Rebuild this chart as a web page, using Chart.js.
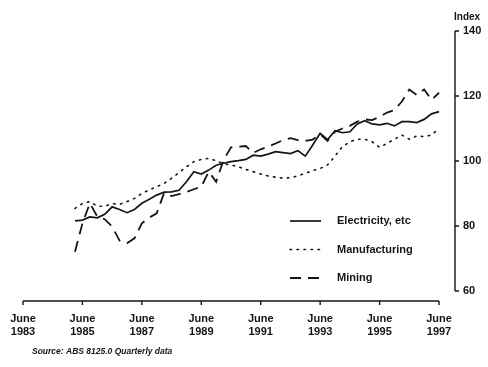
<!DOCTYPE html>
<html lang="en">
<head>
  <meta charset="UTF-8" />
  <title>Index by industry</title>
  <script src="https://cdn.jsdelivr.net/npm/chart.js"></script>
  <style>
    html, body {
      margin: 0;
      padding: 0;
      background: #fff;
    }
    #wrap {
      width: 488px;
      height: 367px;
    }
  </style>
</head>
<body>
  <div id="wrap"><canvas id="indexChart" width="488" height="367"></canvas></div>

  <script>
    // quarterly series, March 1985 to June 1997
    const firstYear = 1983;
    const leadQuarters = 7; // Jun 1983 .. Dec 1984 have no data
    const seriesNames = ['Electricity, etc', 'Manufacturing', 'Mining'];

    const electricity = [
      81.6, 81.8, 82.8, 82.5, 83.6, 85.9, 85.1, 84.1, 85.1, 87.0,
      88.2, 89.5, 90.4, 90.5, 91.0, 93.6, 96.7, 96.0, 97.2, 98.7,
      99.3, 99.8, 100.1, 100.5, 101.8, 101.5, 102.1, 102.9, 102.6, 102.3,
      103.2, 101.5, 104.9, 108.5, 106.6, 109.3, 108.7, 109.0, 111.4, 112.4,
      111.4, 111.1, 111.6, 110.8, 112.1, 112.1, 111.8, 112.8, 114.5, 115.2
    ];
    const manufacturing = [
      85.4, 86.9, 87.5, 86.1, 86.1, 86.9, 86.7, 87.5, 88.5, 90.0,
      91.1, 92.1, 93.1, 94.7, 96.4, 98.2, 99.8, 100.5, 100.8, 100.1,
      99.1, 98.8, 98.2, 97.4, 96.7, 96.0, 95.4, 95.0, 94.7, 94.9,
      95.4, 96.2, 97.0, 97.7, 98.8, 101.5, 104.4, 105.9, 106.7, 106.7,
      105.9, 104.2, 105.4, 106.7, 108.0, 106.7, 107.7, 107.5, 108.0, 110.0
    ];
    const mining = [
      72.1, 80.8, 87.0, 82.9, 82.1, 79.8, 75.5, 74.7, 76.2, 80.8,
      82.6, 83.9, 90.2, 89.2, 89.8, 90.5, 91.3, 92.1, 96.7, 93.6,
      100.3, 104.2, 104.4, 104.6, 102.5, 103.6, 104.4, 105.4, 106.4, 107.0,
      106.4, 106.2, 106.6, 108.3, 106.2, 109.0, 110.0, 110.8, 112.1, 112.8,
      112.6, 113.6, 114.9, 115.7, 118.3, 122.0, 120.3, 122.0, 118.8, 121.0
    ];

    const yTicks = [60, 80, 100, 120, 140];
    const tickMonth = 'June';

    // category labels: every quarter from June 1983 to June 1997
    const monthNames = ['June', 'September', 'December', 'March'];
    const quarters = [];
    for (let i = 0; i <= leadQuarters + electricity.length - 1; i++) {
      const yr = firstYear + Math.floor((i + 2) / 4);
      quarters.push(monthNames[i % 4] + ' ' + yr);
    }

    const pad = arr => new Array(leadQuarters).fill(null).concat(arr);

    const FONT = "'Liberation Sans', Arial, sans-serif";
    const INK = '#151515';

    const paperAxes = {
      id: 'paperAxes',
      afterDraw(chart) {
        const { ctx, chartArea: a, scales: { x, y } } = chart;
        ctx.save();
        ctx.strokeStyle = INK;
        ctx.lineWidth = 1.4;

        // right hand axis, set off from the plot
        const ax = a.right + 16;
        ctx.beginPath();
        ctx.moveTo(ax, y.getPixelForValue(yTicks[yTicks.length - 1]));
        ctx.lineTo(ax, y.getPixelForValue(yTicks[0]));
        yTicks.forEach(v => {
          const py = y.getPixelForValue(v);
          ctx.moveTo(ax, py);
          ctx.lineTo(ax + 4, py);
        });

        // bottom axis, set off below the plot
        const by = a.bottom + 10;
        ctx.moveTo(x.getPixelForValue(0), by);
        ctx.lineTo(x.getPixelForValue(quarters.length - 1), by);
        for (let i = 0; i < quarters.length; i += 8) {
          const px = x.getPixelForValue(i);
          ctx.moveTo(px, by);
          ctx.lineTo(px, by + 4);
        }
        ctx.stroke();

        ctx.fillStyle = INK;
        ctx.textBaseline = 'middle';
        ctx.font = 'bold 10px ' + FONT;
        ctx.fillText('Index', ax - 1, a.top - 14);

        // legend inside the plot, lower right
        chart.data.datasets.forEach((ds, i) => {
          const ly = a.top + 190 + i * 28.5;
          ctx.save();
          ctx.lineWidth = ds.borderWidth;
          ctx.setLineDash(ds.borderDash || []);
          ctx.lineCap = ds.borderCapStyle || 'butt';
          ctx.beginPath();
          ctx.moveTo(a.left + 267, ly);
          ctx.lineTo(a.left + 298, ly);
          ctx.stroke();
          ctx.restore();
          ctx.font = 'bold 11px ' + FONT;
          ctx.fillText(ds.label, a.left + 314, ly);
        });

        ctx.font = 'italic bold 8.5px ' + FONT;
        ctx.fillText('Source: ABS 8125.0 Quarterly data', 32, 352);
        ctx.restore();
      }
    };

    const ctx = document.getElementById('indexChart').getContext('2d');
    new Chart(ctx, {
      type: 'line',
      data: {
        labels: quarters,
        datasets: [
          {
            label: seriesNames[0],
            data: pad(electricity),
            borderColor: INK,
            borderWidth: 1.7,
            pointRadius: 0
          },
          {
            label: seriesNames[1],
            data: pad(manufacturing),
            borderColor: INK,
            borderWidth: 1.6,
            borderDash: [1.5, 5.5],
            borderCapStyle: 'round',
            pointRadius: 0
          },
          {
            label: seriesNames[2],
            data: pad(mining),
            borderColor: INK,
            borderWidth: 1.8,
            borderDash: [11, 7],
            pointRadius: 0
          }
        ]
      },
      options: {
        responsive: false,
        animation: false,
        layout: {
          padding: { left: 23, top: 31, right: 0, bottom: 0 }
        },
        plugins: {
          legend: { display: false },
          tooltip: { enabled: false }
        },
        scales: {
          x: {
            type: 'category',
            offset: false,
            grid: { display: false, drawTicks: false },
            border: { display: false },
            ticks: {
              autoSkip: false,
              maxRotation: 0,
              padding: 21,
              color: INK,
              font: { family: FONT, size: 11, weight: 'bold' },
              callback: (v, i) => i % 8 === 0 ? [tickMonth, quarters[i].split(' ')[1]] : null
            },
            afterFit: s => {
              s.height = 76;
              s.paddingLeft = 0;
              s.paddingRight = 0;
            }
          },
          y: {
            position: 'right',
            min: yTicks[0],
            max: yTicks[yTicks.length - 1],
            grid: { display: false, drawTicks: false },
            border: { display: false },
            ticks: {
              stepSize: 20,
              padding: 24,
              color: INK,
              font: { family: FONT, size: 11, weight: 'bold' }
            },
            afterFit: s => { s.width = 49; }
          }
        }
      },
      plugins: [paperAxes]
    });
  </script>
</body>
</html>
